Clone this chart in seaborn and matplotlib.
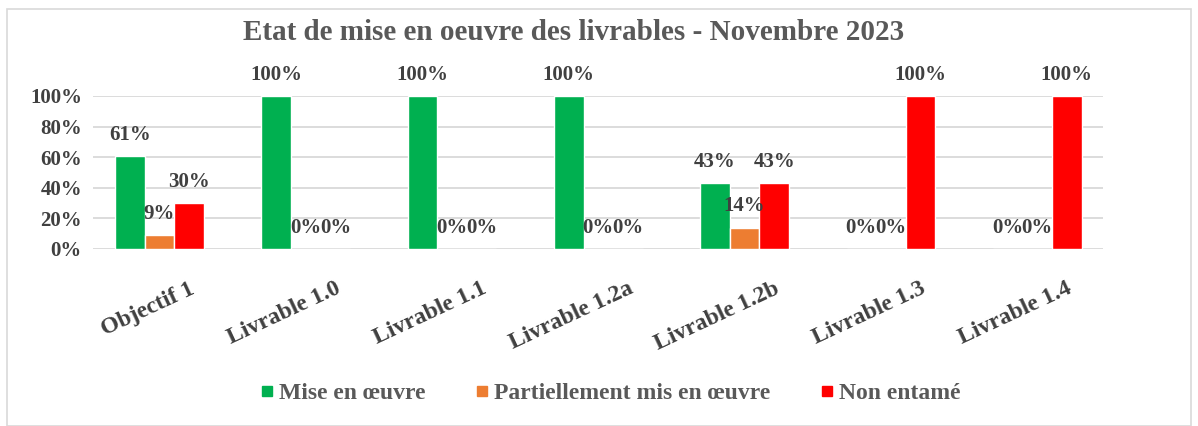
import pandas as pd
import matplotlib
matplotlib.use("Agg")
import matplotlib.pyplot as plt
import seaborn as sns
from matplotlib.patches import Rectangle
from matplotlib.lines import Line2D
from matplotlib.transforms import ScaledTranslation

# ----------------- data -----------------
livrables = ["Objectif 1", "Livrable 1.0", "Livrable 1.1", "Livrable 1.2a",
             "Livrable 1.2b", "Livrable 1.3", "Livrable 1.4"]
mise_en_oeuvre = [61, 100, 100, 100, 43, 0, 0]
partiellement = [9, 0, 0, 0, 14, 0, 0]
non_entame = [30, 0, 0, 0, 43, 100, 100]
series = ["Mise en œuvre", "Partiellement mis en œuvre", "Non entamé"]
couleurs = ["#00B050", "#ED7D31", "#FF0000"]
y_ticks = [0, 20, 40, 60, 80, 100]

df = pd.DataFrame({
    "livrable": livrables * 3,
    "serie": [series[0]] * 7 + [series[1]] * 7 + [series[2]] * 7,
    "valeur": mise_en_oeuvre + partiellement + non_entame,
})

# ----------------- figure -----------------
sns.set_style("white")
serif = ['Liberation Serif', 'DejaVu Serif']
plt.rcParams['font.family'] = serif
plt.rcParams['font.weight'] = 'bold'

fig = plt.figure(figsize=(11.98, 4.26), dpi=100)
ax = fig.add_axes([93/1198, 1-249/426, (1103-93)/1198, (249-96)/426])

sns.barplot(data=df, x="livrable", y="valeur", hue="serie", palette=couleurs,
            width=0.607, saturation=1, legend=False, ax=ax)

txt = "#404040"
for cont in ax.containers:
    vals = [b.get_height() for b in cont]
    ax.bar_label(cont, labels=[f"{v:.0f}%" for v in vals], padding=8,
                 fontsize=15, fontweight='bold', color=txt)

ax.set_ylim(0, 100)
ax.set_xlim(-0.455, 6.45)
ax.set_yticks(y_ticks)
ax.set_yticklabels([f"{v}%" for v in y_ticks], fontsize=15, fontweight='bold', color=txt)
ax.yaxis.grid(True, color="#D9D9D9", linewidth=1.3)
ax.set_axisbelow(True)
ax.tick_params(axis='both', length=0)
ax.tick_params(axis='y', pad=8)
ax.tick_params(axis='x', pad=21)
ax.set_xlabel("")
ax.set_ylabel("")
for s in ax.spines.values():
    s.set_visible(False)

# rotated category labels, right end a bit to the right of the group centre
offset = ScaledTranslation(38/100, 0, fig.dpi_scale_trans)
for lab in ax.get_xticklabels():
    lab.set_rotation(25)
    lab.set_ha('right')
    lab.set_fontsize(17)
    lab.set_fontweight('bold')
    lab.set_color(txt)
    lab.set_transform(lab.get_transform() + offset)

fig.text(574/1198, 1-32/426, "Etat de mise en oeuvre des livrables - Novembre 2023",
         ha='center', va='center', fontsize=21, fontweight='bold', color="#595959")

handles = [Line2D([], [], marker='s', linestyle='', markersize=7.5,
                  markerfacecolor=c, markeredgecolor=c) for c in couleurs]
leg = fig.legend(handles, series, loc='center', bbox_to_anchor=(611/1198, 1-393/426),
                 ncol=3, frameon=False, handlelength=0.5, handletextpad=0.25,
                 columnspacing=2.15, fontsize=17)
for t in leg.get_texts():
    t.set_family(serif)
    t.set_fontweight('bold')
    t.set_color("#595959")

fig.patches.append(Rectangle((7/1198, 0), (1191-7)/1198, (426-9)/426,
                             transform=fig.transFigure, fill=False,
                             edgecolor="#D9D9D9", linewidth=1.2))

fig.savefig("out.png", dpi=100)
